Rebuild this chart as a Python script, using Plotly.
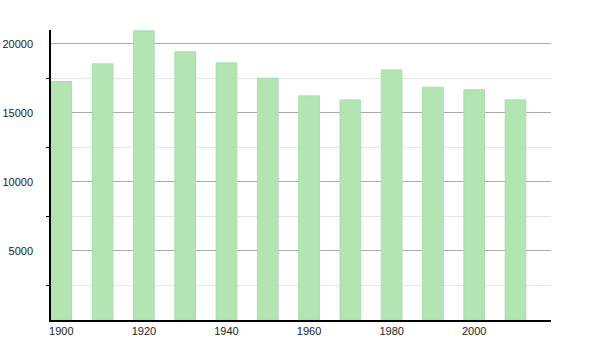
import plotly.graph_objects as go

years = [1900, 1910, 1920, 1930, 1940, 1950, 1960, 1970, 1980, 1990, 2000, 2010]
population = [17270, 18550, 20940, 19420, 18620, 17510, 16230, 15940, 18110, 16860, 16670, 15940]
y_ticks = [5000, 10000, 15000, 20000]
x_ticks = [1900, 1920, 1940, 1960, 1980, 2000]

fig = go.Figure()
fig.add_trace(go.Bar(
    x=years, y=population, width=5,
    marker=dict(color="#b3e5b3", line=dict(color="#a9ddb0", width=1)),
))

font = dict(family="Liberation Sans, Arial, sans-serif", size=11, color="#222")

fig.update_layout(
    width=600, height=350,
    margin=dict(l=51, r=49, t=30, b=30),
    paper_bgcolor="white", plot_bgcolor="white",
    showlegend=False,
    font=font,
    xaxis=dict(
        range=[1897.5, 2018.6], automargin=False,
        tickvals=x_ticks, ticktext=[str(v) for v in x_ticks],
        showgrid=False, zeroline=False,
        showline=True, linecolor="black", linewidth=1.5,
        ticks="", ticklen=0, tickfont=font,
    ),
    yaxis=dict(
        range=[0, 21000], automargin=False,
        tickvals=y_ticks, ticktext=[str(v) for v in y_ticks],
        showgrid=True, gridcolor="#aaaaaa", gridwidth=1,
        zeroline=False,
        showline=True, linecolor="black", linewidth=1.5,
        ticks="", ticklabelstandoff=14, tickfont=font,
        minor=dict(tickvals=[2500, 7500, 12500, 17500], showgrid=True,
                   gridcolor="#e6e6e6", gridwidth=1,
                   ticks="outside", ticklen=3, tickcolor="black"),
    ),
)

fig.write_html("out.html")
